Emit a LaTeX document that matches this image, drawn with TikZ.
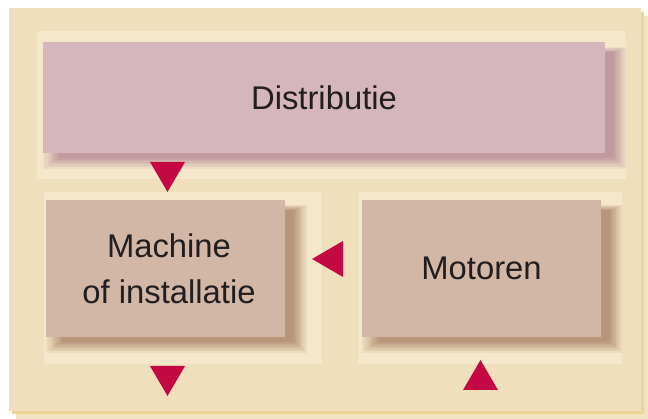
\documentclass[tikz,border=0pt]{standalone}
\usepackage{fontspec}
\setmainfont{Liberation Sans}
\definecolor{bgc}{HTML}{F0DFBC}
\definecolor{outsh}{HTML}{EAD597}
\definecolor{outshl}{HTML}{F2E4C2}
\definecolor{panelc}{HTML}{F5E7C9}
\definecolor{pinkc}{HTML}{D5B6BC}
\definecolor{brownc}{HTML}{D2B6A6}
\definecolor{trc}{HTML}{C40843}
\definecolor{txtc}{HTML}{221E1F}
\definecolor{pshA}{HTML}{C19AA0}
\definecolor{bshA}{HTML}{B8967A}
\newcommand{\mysoftshadow}[5]{%
  \foreach \k in {0,...,7}{%
    \pgfmathsetmacro{\tt}{\k/7}%
    \pgfmathsetmacro{\pp}{15+85*\tt}%
    \fill[#5!\pp!panelc] ({#1+16*\tt},{#2+5+5*\tt}) rectangle ({#3+22-13*\tt},{#4+16-11*\tt});
  }%
}
\begin{document}
\begin{tikzpicture}[x=1pt,y=-1pt,
  box/.style={inner sep=0pt, outer sep=0pt, align=center, text=txtc,
    font=\fontsize{32.8}{46}\selectfont},
  tri/.style={fill=trc}]
\useasboundingbox (0,0) rectangle (648,419);
\fill[white] (0,0) rectangle (648,419);
% outer panel with soft shadow
\fill[outshl] (16,16) rectangle (648,419);
\fill[outsh] (12,12) rectangle (644,414);
\fill[bgc] (9,8) rectangle (641,411);
% lighter panels
\fill[panelc] (37,31) rectangle (626,179);
\fill[panelc] (44,192) rectangle (322,364);
\fill[panelc] (358,192) rectangle (622,364);
% box shadows
\mysoftshadow{43}{42}{605}{153}{pshA}
\mysoftshadow{46}{200}{285}{337}{bshA}
\mysoftshadow{362}{200}{601}{337}{bshA}
% boxes
\node[box, fill=pinkc, minimum width=562pt, minimum height=111pt] (dist) at (324,97.5) {Distributie};
\node[box, fill=brownc, minimum width=239pt, minimum height=137pt] (mach) at (165.5,268.5) {\hspace*{7pt}Machine\\\hspace*{7pt}of installatie};
\node[box, fill=brownc, minimum width=239pt, minimum height=137pt] (mot) at (481.5,268.5) {Motoren};
% triangles
\fill[tri] (150,162) -- (185,162) -- (167.5,192) -- cycle;
\fill[tri] (150,366) -- (185,366) -- (167.5,396) -- cycle;
\fill[tri] (463,390) -- (498,390) -- (480.5,360) -- cycle;
\fill[tri] (312,259) -- (343,241) -- (343,277) -- cycle;
\end{tikzpicture}
\end{document}
